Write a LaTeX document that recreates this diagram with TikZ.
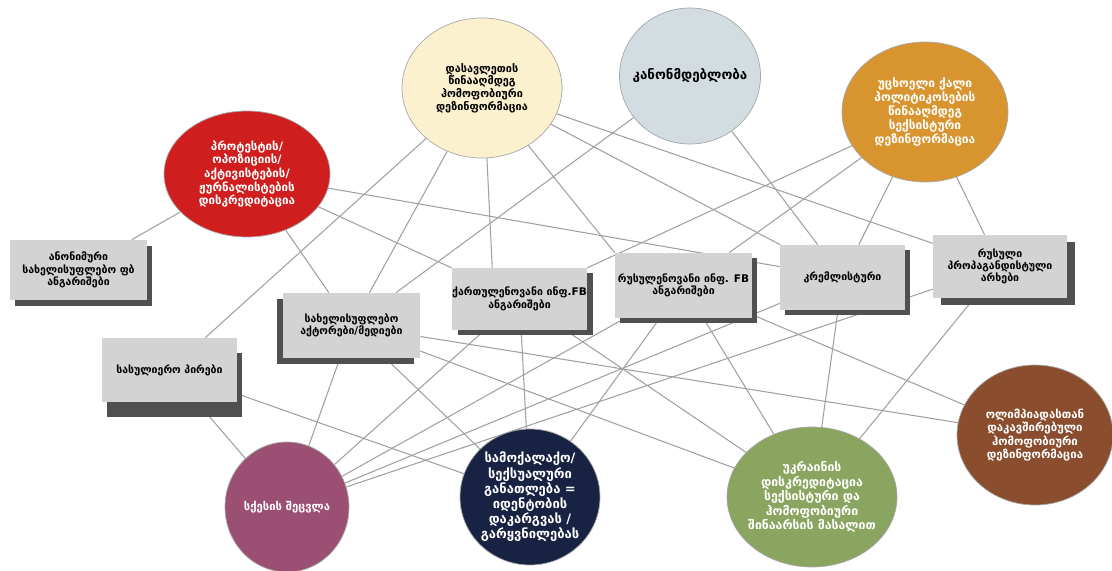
\documentclass[tikz,border=0pt]{standalone}
\usepackage{fontspec}
\setmainfont{DejaVu Sans}
\usetikzlibrary{shapes.geometric, shadows, backgrounds}

\definecolor{cream}{HTML}{FCF1CF}
\definecolor{greyblue}{HTML}{D3DDE1}
\definecolor{ochre}{HTML}{D8952F}
\definecolor{signalred}{HTML}{D01E1E}
\definecolor{mauve}{HTML}{9B4F73}
\definecolor{navy}{HTML}{182242}
\definecolor{olive}{HTML}{8AA55F}
\definecolor{rust}{HTML}{8A4E2F}
\definecolor{boxgrey}{HTML}{D3D3D3}
\definecolor{shadowgrey}{HTML}{505050}
\definecolor{linkgrey}{HTML}{A0A0A0}

\newcommand{\gfont}[1]{\fontsize{#1}{1.17\dimexpr #1pt\relax}\selectfont\bfseries}
\tikzstyle{topic} = [ellipse, draw=gray!70, line width=0.4pt, inner sep=0pt, align=center]
\tikzstyle{actor} = [rectangle, fill=boxgrey, inner sep=0pt, align=center, font=\gfont{6}]
\tikzstyle{link} = [draw=linkgrey, line width=0.6pt]
\tikzset{lift/.style 2 args={general shadow={fill=shadowgrey, shadow xshift=#1, shadow yshift=#2}}}

\begin{document}
\begin{tikzpicture}[x=0.02cm, y=-0.02cm]
		\useasboundingbox (0,0) rectangle (1112,571);
		% Topics
		\node (west) [topic, fill=cream, font=\gfont{6.2}, minimum width=3.2cm, minimum height=2.8cm] at (482,88) {დასავლეთის\\წინააღმდეგ\\ჰომოფობიური\\დეზინფორმაცია};
		\node (law) [topic, fill=greyblue, font=\gfont{7.6}, inner xsep=-6pt, minimum width=2.82cm, minimum height=2.72cm] at (690,76) {კანონმდებლობა};
		\node (women) [topic, fill=ochre, text=white, font=\gfont{6.8}, minimum width=3.32cm, minimum height=2.8cm] at (925,112) {უცხოელი ქალი\\პოლიტიკოსების\\წინააღმდეგ\\სექსისტური\\დეზინფორმაცია};
		\node (protest) [topic, fill=signalred, text=white, font=\gfont{6.6}, minimum width=3.32cm, minimum height=2.52cm] at (247,174) {პროტესტის/\\ოპოზიციის/\\აქტივისტების/\\ჟურნალისტების\\დისკრედიტაცია};
		\node (gender) [topic, fill=mauve, text=white, font=\gfont{6.4}, minimum width=2.48cm, minimum height=2.6cm] at (287,507) {სქესის შეცვლა};
		\node (school) [topic, fill=navy, text=white, font=\gfont{7.4}, inner xsep=-2pt, minimum width=2.8cm, minimum height=2.72cm] at (530,497) {სამოქალაქო/\\სექსუალური\\განათლება =\\იდენტობის\\დაკარგვას /\\გარყვნილებას};
		\node (ukraine) [topic, fill=olive, text=white, font=\gfont{7}, inner xsep=-4pt, minimum width=3.4cm, minimum height=2.8cm] at (812,497) {უკრაინის\\დისკრედიტაცია\\სექსისტური და\\ჰომოფობიური\\შინაარსის მასალით};
		\node (olymp) [topic, fill=rust, text=white, font=\gfont{6.5}, minimum width=3.12cm, minimum height=2.8cm] at (1035,435) {ოლიმპიადასთან\\დაკავშირებული\\ჰომოფობიური\\დეზინფორმაცია};
		% Actors
		\node (anonfb) [actor, lift={0.1cm}{-0.12cm}, minimum width=2.74cm, minimum height=1.2cm] at (78.5,270) {ანონიმური\\სახელისუფლებო ფბ\\ანგარიშები};
		\node (geofb) [actor, lift={0.12cm}{-0.1cm}, minimum width=2.7cm, minimum height=1.24cm] at (519.5,299) {ქართულენოვანი ინფ.FB\\ანგარიშები};
		\node (rufb) [actor, lift={0.1cm}{-0.1cm}, minimum width=2.74cm, minimum height=1.3cm] at (683.5,285.5) {რუსულენოვანი ინფ. FB\\ანგარიშები};
		\node (kreml) [actor, lift={0.1cm}{-0.1cm}, minimum width=2.5cm, minimum height=1.3cm] at (842.5,277.5) {კრემლისტური};
		\node (ruchan) [actor, lift={0.16cm}{-0.14cm}, minimum width=2.68cm, minimum height=1.26cm] at (1000,266.5) {რუსული\\პროპაგანდისტული\\არხები};
		\node (govact) [actor, lift={-0.12cm}{-0.12cm}, minimum width=2.74cm, minimum height=1.3cm] at (351.5,325.5) {სახელისუფლებო\\აქტორები/მედიები};
		\node (clergy) [actor, lift={0.1cm}{-0.3cm}, minimum width=2.7cm, minimum height=1.28cm] at (169.5,370) {სასულიერო პირები};

		\begin{scope}[on background layer]
		% from the upper topics
		\draw [link] (anonfb) -- (protest);
		\draw [link] (protest) -- (govact);
		\draw [link] (protest) -- (geofb);
		\draw [link] (protest) -- (kreml);
		\draw [link] (west) -- (clergy);
		\draw [link] (west) -- (govact);
		\draw [link] (west.-86) -- (geofb.131);
		\draw [link] (west) -- (rufb.north west);
		\draw [link] (west) -- (kreml);
		\draw [link] (west) -- (ruchan);
		\draw [link] (law) -- (govact);
		\draw [link] (law) -- (kreml);
		\draw [link] (women) -- (geofb);
		\draw [link] (women) -- (rufb);
		\draw [link] (women) -- (kreml);
		\draw [link] (women) -- (ruchan);
		% to the lower topics
		\draw [link] (clergy) -- (gender);
		\draw [link] (clergy) -- (school);
		\draw [link] (govact) -- (gender);
		\draw [link] (govact) -- (school);
		\draw [link] (govact) -- (ukraine);
		\draw [link] (govact) -- (olymp);
		\draw [link] (geofb) -- (gender);
		\draw [link] (geofb) -- (school);
		\draw [link] (geofb) -- (ukraine);
		\draw [link] (rufb) -- (gender);
		\draw [link] (rufb) -- (school);
		\draw [link] (rufb) -- (ukraine);
		\draw [link] (rufb) -- (olymp);
		\draw [link] (kreml) -- (gender);
		\draw [link] (kreml) -- (ukraine);
		\draw [link] (ruchan) -- (gender);
		\draw [link] (ruchan) -- (ukraine);
		\end{scope}
	\end{tikzpicture}
\end{document}
